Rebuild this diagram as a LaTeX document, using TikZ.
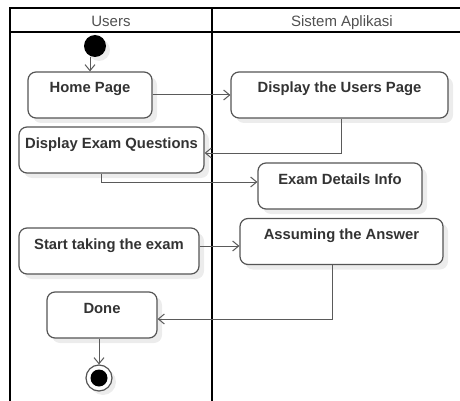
\documentclass[tikz,border=0pt]{standalone}
\usepackage{fontspec}
\setmainfont{Liberation Sans}
\usetikzlibrary{arrows.meta,shadows}
\definecolor{boxline}{HTML}{555555}
\definecolor{txt}{HTML}{333333}
\definecolor{lineg}{HTML}{5a5a5a}
\definecolor{shadowc}{HTML}{ECECEC}
\definecolor{headtxt}{HTML}{505050}
\begin{document}
\begin{tikzpicture}[x=1pt,y=-1pt,
  act/.style={draw=boxline, line width=1.2pt, rounded corners=8pt, fill=white,
    inner xsep=0pt, inner ysep=0pt, text height=21pt, text depth=25pt,
    font=\fontsize{14.8}{16}\selectfont\bfseries, text=txt,
    drop shadow={shadow xshift=5pt, shadow yshift=-5pt, fill=shadowc, opacity=1}},
  flow/.style={draw=lineg, line width=1pt, -{Straight Barb[length=6pt,width=10pt]}},
  lane/.style={line width=1.8pt, draw=black},
  head/.style={font=\fontsize{15}{17}\selectfont, text=headtxt, anchor=base, inner sep=0pt}]
\useasboundingbox (0,0) rectangle (460,401);
% swimlanes
\draw[lane] (10,401) -- (10,8) -- (460,8);
\draw[lane] (10,32) -- (460,32);
\draw[lane] (212,8) -- (212,401);
\node[head] (hu) at (111,27) {Users};
\node[head] (hs) at (342,27) {Sistem Aplikasi};
% start
\node[circle, fill=black, minimum size=22pt, inner sep=0pt,
  drop shadow={shadow xshift=4pt, shadow yshift=-4pt, fill=shadowc, opacity=1}] (init) at (95,46) {};
% activities
\node[act, minimum width=124pt] (home) at (90,95) {Home Page};
\node[act, minimum width=217pt] (users) at (339.5,95) {Display the Users Page};
\node[act, minimum width=185pt] (examq) at (111.5,150) {Display Exam Questions};
\node[act, minimum width=164pt] (details) at (340,186) {Exam Details Info};
\node[act, minimum width=180pt] (start) at (109,251) {Start taking the exam};
\node[act, minimum width=203pt] (answer) at (341.5,241.5) {Assuming the Answer};
\node[act, minimum width=110pt] (done) at (102,315) {Done};
% final
\node[circle, draw=boxline, line width=1.2pt, fill=white, minimum size=26pt, inner sep=0pt,
  drop shadow={shadow xshift=4pt, shadow yshift=-4pt, fill=shadowc, opacity=1}] (final) at (99,378) {};
\node[circle, fill=black, minimum size=17pt, inner sep=0pt] (finaldot) at (final.center) {};
% flows
\draw[flow] (init.south -| home.north) -- (home.north);
\draw[flow] (home.east) -- (users.west);
\draw[flow] ([xshift=1.5pt]users.south) |- ([yshift=-3pt]examq.east);
\draw[flow] ([xshift=-10.5pt]examq.south) |- ([yshift=4pt]details.west);
\draw[flow] ([yshift=5pt]start.east) -- ([yshift=-4.5pt]answer.west);
\draw[flow] ([xshift=-9.5pt]answer.south) |- ([yshift=-4pt]done.east);
\draw[flow] (done.south -| final.north) -- (final.north);
\end{tikzpicture}
\end{document}
